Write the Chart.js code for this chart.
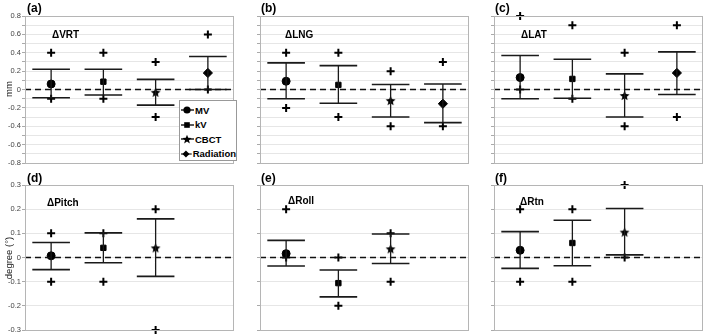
<!DOCTYPE html>
<html><head><meta charset="utf-8">
<script src="https://cdn.jsdelivr.net/npm/chart.js@4/dist/chart.umd.min.js"></script>
<style>
html,body{margin:0;padding:0;background:#fff;}
#wrap{position:relative;width:709px;height:336px;overflow:hidden;font-family:"Liberation Sans",Arial,sans-serif;}
#wrap canvas{position:absolute;}
.plbl{position:absolute;font-weight:bold;font-size:12px;color:#000;line-height:12px;z-index:5;}
.inner{position:absolute;font-weight:bold;font-size:10px;color:#000;line-height:10px;z-index:5;}
.ytitle{position:absolute;font-size:9.5px;color:#222;transform:translate(-50%,-50%) rotate(-90deg);white-space:nowrap;z-index:5;}
#legend{position:absolute;left:179px;top:100px;width:58px;height:61px;border:1px solid #999;background:#fff;z-index:6;box-sizing:border-box;padding-top:2px;}
#legend .row{display:flex;align-items:center;height:14.5px;font-weight:bold;font-size:9.5px;color:#000;}
#legend svg{display:block;margin-left:1px;margin-right:1px;}
</style>
</head><body>
<div id="wrap">
  <canvas id="ca"></canvas><canvas id="cb"></canvas><canvas id="cc"></canvas>
  <canvas id="cd"></canvas><canvas id="ce"></canvas><canvas id="cf"></canvas>
  <div class="plbl" style="left:27px;top:2px">(a)</div>
  <div class="plbl" style="left:261px;top:2px">(b)</div>
  <div class="plbl" style="left:495px;top:2px">(c)</div>
  <div class="plbl" style="left:27px;top:172px">(d)</div>
  <div class="plbl" style="left:261px;top:172px">(e)</div>
  <div class="plbl" style="left:495px;top:172px">(f)</div>
  <div class="inner" style="left:52px;top:30px">ΔVRT</div>
  <div class="inner" style="left:285px;top:30px">ΔLNG</div>
  <div class="inner" style="left:521px;top:30px">ΔLAT</div>
  <div class="inner" style="left:47px;top:198px">ΔPitch</div>
  <div class="inner" style="left:288px;top:196px">ΔRoll</div>
  <div class="inner" style="left:520px;top:197px">ΔRtn</div>
  <div class="ytitle" style="left:8px;top:89px">mm</div>
  <div class="ytitle" style="left:8px;top:258px">degree (°)</div>
  <div id="legend"></div>
</div>
<script>
const categories = ['MV', 'kV', 'CBCT', 'Radiation'];

// Top row (mm)
const vrtMax   = [0.4, 0.4, 0.3, 0.6];
const vrtUpper = [0.22, 0.22, 0.11, 0.36];
const vrtMean  = [0.06, 0.085, -0.03, 0.18];
const vrtLower = [-0.09, -0.06, -0.17, 0.0];
const vrtMin   = [-0.1, -0.1, -0.3, 0.0];

const lngMax   = [0.4, 0.4, 0.2, 0.3];
const lngUpper = [0.29, 0.26, 0.055, 0.06];
const lngMean  = [0.09, 0.05, -0.12, -0.155];
const lngLower = [-0.10, -0.15, -0.30, -0.36];
const lngMin   = [-0.2, -0.3, -0.4, -0.4];

const latMax   = [0.8, 0.7, 0.4, 0.7];
const latUpper = [0.37, 0.33, 0.17, 0.41];
const latMean  = [0.13, 0.115, -0.065, 0.18];
const latLower = [-0.10, -0.095, -0.30, -0.055];
const latMin   = [0.0, -0.1, -0.4, -0.3];

// Bottom row (degree)
const pitchMax   = [0.1, 0.1, 0.2, null];
const pitchUpper = [0.062, 0.102, 0.16, null];
const pitchMean  = [0.007, 0.04, 0.04, null];
const pitchLower = [-0.05, -0.022, -0.078, null];
const pitchMin   = [-0.1, -0.1, -0.3, null];

const rollMax   = [0.2, 0.0, 0.1, null];
const rollUpper = [0.071, -0.052, 0.097, null];
const rollMean  = [0.016, -0.106, 0.036, null];
const rollLower = [-0.035, -0.163, -0.025, null];
const rollMin   = [0.0, -0.2, -0.1, null];

const rtnMax   = [0.2, 0.2, 0.3, null];
const rtnUpper = [0.107, 0.154, 0.203, null];
const rtnMean  = [0.03, 0.06, 0.105, null];
const rtnLower = [-0.045, -0.034, 0.011, null];
const rtnMin   = [-0.1, -0.1, 0.0, null];

const mmRange = [-0.8, 0.8];
const degRange = [-0.3, 0.3];

// star marker image
function makeStar(R) {
  const s = Math.ceil(R * 2 + 2);
  const c = document.createElement('canvas');
  c.width = s; c.height = s;
  const g = c.getContext('2d');
  g.fillStyle = '#000';
  g.beginPath();
  for (let k = 0; k < 10; k++) {
    const r = k % 2 === 0 ? R : R * 0.45;
    const a = -Math.PI / 2 + k * Math.PI / 5;
    const px = s / 2 + r * Math.cos(a), py = s / 2 + r * Math.sin(a) + 0.5;
    if (k === 0) g.moveTo(px, py); else g.lineTo(px, py);
  }
  g.closePath(); g.fill();
  return c;
}
const starImg = makeStar(5.2);
const markerStyles = ['circle', 'rect', starImg, 'rectRot'];
const markerRadius = [4, 3.8, 5, 4.6];

const framePlugin = {
  id: 'frame',
  afterDraw(chart) {
    const a = chart.chartArea, g = chart.ctx;
    g.save();
    g.strokeStyle = '#b5b5b5'; g.lineWidth = 1;
    g.strokeRect(Math.round(a.left) + 0.5, Math.round(a.top) + 0.5, Math.round(a.right - a.left) - 1, Math.round(a.bottom - a.top));
    g.restore();
  }
};

function fmt(v) { const r = Math.round(v * 10) / 10; return r === 0 ? '0' : String(r); }

function makePanel(id, left, top, w, h, yW, padT, padB, range, showLabels, everyOther, mx, up, mean, lo, mn) {
  const cv = document.getElementById(id);
  cv.style.left = left + 'px'; cv.style.top = top + 'px';
  cv.style.width = w + 'px'; cv.style.height = h + 'px';
  cv.width = w; cv.height = h;

  const whisk = [], caps = [], plus = [], means = [], styles = [], radii = [];
  categories.forEach((c, i) => {
    if (mean[i] === null) return;
    whisk.push({x: i, y: lo[i]}, {x: i, y: up[i]}, {x: i, y: null});
    caps.push({x: i - 0.36, y: up[i]}, {x: i + 0.36, y: up[i]}, {x: i, y: null});
    caps.push({x: i - 0.36, y: lo[i]}, {x: i + 0.36, y: lo[i]}, {x: i, y: null});
    plus.push({x: i, y: mx[i]}, {x: i, y: mn[i]});
    means.push({x: i, y: mean[i]});
    styles.push(markerStyles[i]); radii.push(markerRadius[i]);
  });

  new Chart(cv, {
    type: 'scatter',
    data: {
      datasets: [
        {data: [{x: -0.5, y: 0}, {x: 3.5, y: 0}], showLine: true, borderColor: '#111', borderWidth: 1.4, borderDash: [6, 4], pointRadius: 0},
        {data: whisk, showLine: true, borderColor: '#1a1a1a', borderWidth: 1.3, pointRadius: 0, spanGaps: false},
        {data: caps, showLine: true, borderColor: '#1a1a1a', borderWidth: 1.6, pointRadius: 0, spanGaps: false},
        {data: plus, pointStyle: 'cross', pointRadius: 4, borderColor: '#000', borderWidth: 2, clip: false},
        {data: means, pointStyle: styles, pointRadius: radii, backgroundColor: '#000', borderColor: '#000', borderWidth: 1, clip: false}
      ]
    },
    options: {
      responsive: false, animation: false, devicePixelRatio: 1,
      layout: {padding: {top: padT, bottom: padB, left: 0, right: 2}},
      plugins: {legend: {display: false}, tooltip: {enabled: false}},
      scales: {
        x: {type: 'linear', min: -0.5, max: 3.5, display: false},
        y: {
          type: 'linear', min: range[0], max: range[1],
          afterFit: s => { s.width = yW; },
          border: {display: true, color: '#b5b5b5'},
          grid: {color: '#e6e6e6', lineWidth: 1, tickLength: 3, tickColor: '#aaa'},
          ticks: {
            display: showLabels, stepSize: 0.1, autoSkip: false, padding: 1,
            color: '#444', font: {size: 7.5, family: '"Liberation Sans", Arial, sans-serif'},
            callback: v => {
              const k = Math.round(v * 10);
              if (everyOther && k % 2 !== 0) return '';
              return fmt(v);
            }
          }
        }
      }
    },
    plugins: [framePlugin]
  });
}

makePanel('ca', 0, 0, 240, 170, 25, 16, 7, mmRange, true, true, vrtMax, vrtUpper, vrtMean, vrtLower, vrtMin);
makePanel('cb', 240, 0, 235, 170, 20, 16, 7, mmRange, false, true, lngMax, lngUpper, lngMean, lngLower, lngMin);
makePanel('cc', 475, 0, 234, 170, 19, 16, 7, mmRange, false, true, latMax, latUpper, latMean, latLower, latMin);
makePanel('cd', 0, 170, 240, 166, 25, 15, 6, degRange, true, false, pitchMax, pitchUpper, pitchMean, pitchLower, pitchMin);
makePanel('ce', 240, 170, 235, 166, 20, 15, 6, degRange, false, false, rollMax, rollUpper, rollMean, rollLower, rollMin);
makePanel('cf', 475, 170, 234, 166, 19, 15, 6, degRange, false, false, rtnMax, rtnUpper, rtnMean, rtnLower, rtnMin);

// legend
function legendIcon(i) {
  const cy = 5, cx = 6;
  let m = '';
  if (i === 0) m = `<circle cx="${cx}" cy="${cy}" r="3.6" fill="#000"/>`;
  else if (i === 1) m = `<rect x="${cx-2.8}" y="${cy-2.8}" width="5.6" height="5.6" fill="#000"/>`;
  else if (i === 2) {
    let pts = [];
    for (let k = 0; k < 10; k++) { const r = k % 2 === 0 ? 4.8 : 2.1; const a = -Math.PI/2 + k*Math.PI/5; pts.push((cx + r*Math.cos(a)).toFixed(2) + ',' + (cy + 0.5 + r*Math.sin(a)).toFixed(2)); }
    m = `<polygon points="${pts.join(' ')}" fill="#000"/>`;
  } else m = `<polygon points="${cx},${cy-4.3} ${cx+4.3},${cy} ${cx},${cy+4.3} ${cx-4.3},${cy}" fill="#000"/>`;
  return `<svg width="13" height="10" viewBox="0 0 13 10"><line x1="0" y1="${cy}" x2="13" y2="${cy}" stroke="#000" stroke-width="1.3"/>${m}</svg>`;
}
document.getElementById('legend').innerHTML = categories.map((c, i) => `<div class="row">${legendIcon(i)}<span>${c}</span></div>`).join('');
</script>
</body></html>
